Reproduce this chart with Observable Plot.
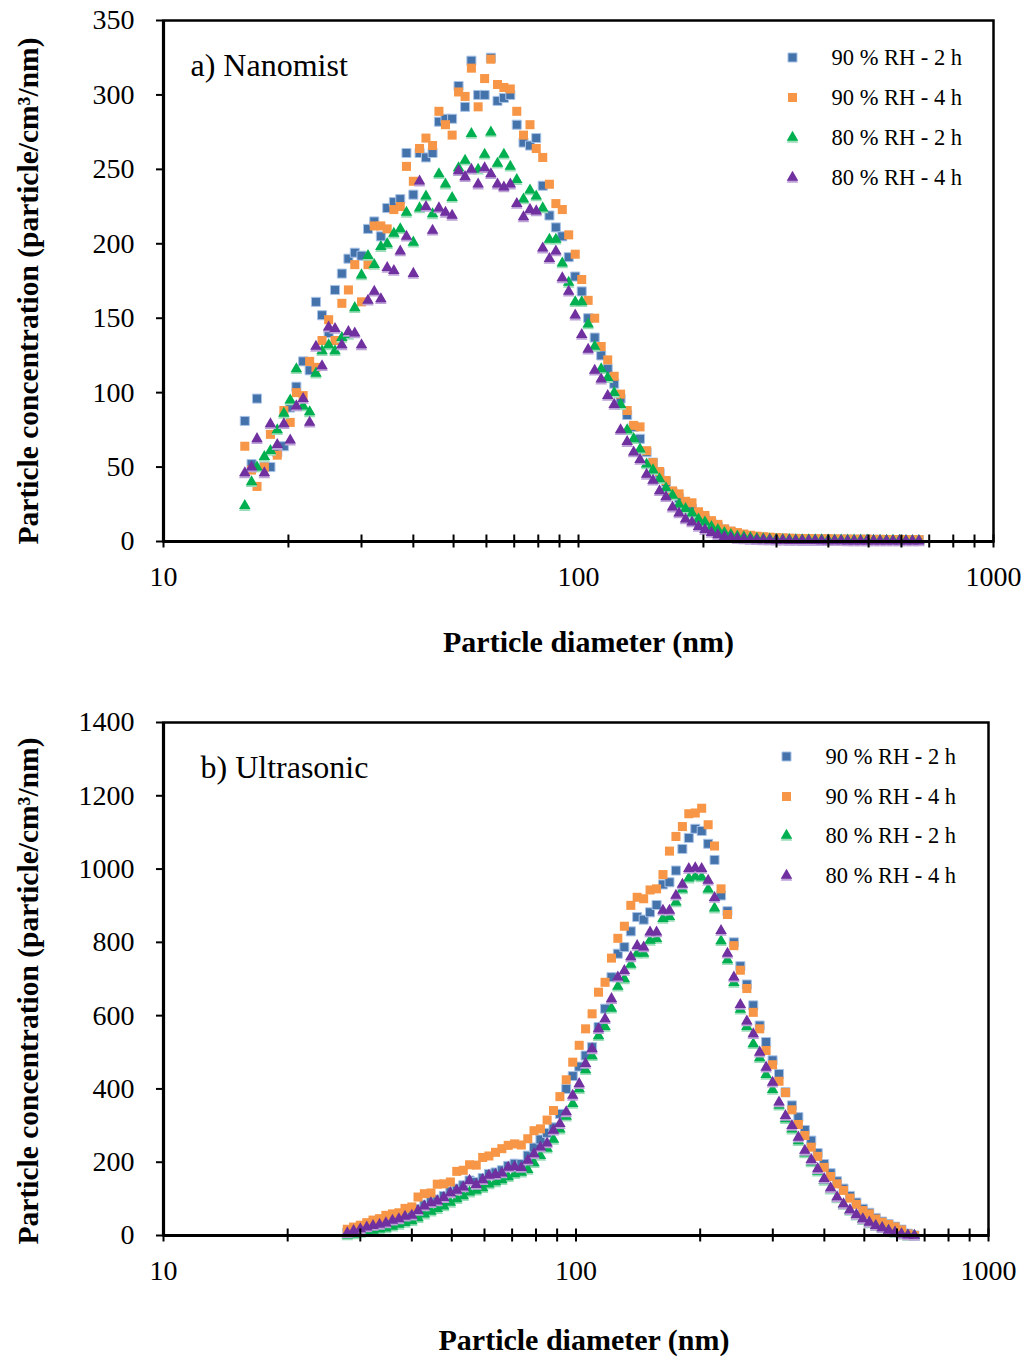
<!DOCTYPE html>
<html><head><meta charset="utf-8">
<script src="https://cdn.jsdelivr.net/npm/d3@7"></script>
<script src="https://cdn.jsdelivr.net/npm/@observablehq/plot@0.6"></script>
<style>
html,body{margin:0;padding:0;background:#fff;}
#wrap{position:relative;width:1034px;height:1360px;background:#fff;}
#wrap svg{position:absolute;left:0;}
</style></head><body><div id="wrap"></div>
<script>
// ---- data ----
const seriesNames = ["90 % RH - 2 h", "90 % RH - 4 h", "80 % RH - 2 h", "80 % RH - 4 h"];
const panelTitles = ["a) Nanomist", "b) Ultrasonic"];
const xLabel = "Particle diameter (nm)";
const yLabel = "Particle concentration (particle/cm³/nm)";
const xTickLabels = [10, 100, 1000];
const xMinorTicks = [10,20,30,40,50,60,70,80,90,100,200,300,400,500,600,700,800,900,1000];
const yTicksA = [0,50,100,150,200,250,300,350];
const yTicksB = [0,200,400,600,800,1000,1200,1400];

const diameterA = [
15.7,16.3,16.8,17.5,18.1,18.8,19.5,20.2,20.9,21.7,
22.5,23.3,24.1,25.0,25.9,26.9,27.9,28.9,30.0,31.1,
32.2,33.4,34.6,35.9,37.2,38.5,40.0,41.4,42.9,44.5,
46.1,47.8,49.6,51.4,53.3,55.2,57.3,59.4,61.5,63.8,
66.1,68.5,71.0,73.7,76.4,79.1,82.0,85.1,88.2,91.4,
94.7,98.2,101.8,105.5,109.4,113.4,117.6,121.9,126.3,131.0,
135.8,140.7,145.9,151.2,156.8,162.5,168.5,174.7,181.1,187.7,
194.6,201.7,209.1,216.7,224.7,232.9,241.4,250.3,259.5,269.0,
278.8,289.0,299.6,310.6,322.0,333.8,346.0,358.7,371.8,385.4,
399.5,414.2,429.4,445.1,461.4,478.3,495.8,514.0,532.8,552.3,
572.5,593.5,615.3,637.8,661.2];

const diameterB = [
27.9,28.9,30.0,31.1,32.2,33.4,34.6,35.9,37.2,38.5,
40.0,41.4,42.9,44.5,46.1,47.8,49.6,51.4,53.3,55.2,
57.3,59.4,61.5,63.8,66.1,68.5,71.0,73.7,76.4,79.1,
82.0,85.1,88.2,91.4,94.7,98.2,101.8,105.5,109.4,113.4,
117.6,121.9,126.3,131.0,135.8,140.7,145.9,151.2,156.8,162.5,
168.5,174.7,181.1,187.7,194.6,201.7,209.1,216.7,224.7,232.9,
241.4,250.3,259.5,269.0,278.8,289.0,299.6,310.6,322.0,333.8,
346.0,358.7,371.8,385.4,399.5,414.2,429.4,445.1,461.4,478.3,
495.8,514.0,532.8,552.3,572.5,593.5,615.3,637.8,661.2];

// a) Nanomist
const nano90_2h = [
81,52,96,50,50,60,64,90,104,121,
115,161,152,140,169,180,190,194,192,210,
215,205,224,228,230,261,233,261,258,261,
282,284,284,306,292,323,300,300,325,296,
298,300,280,268,266,271,239,219,211,205,
191,178,168,150,137,125,116,106,96,85,
77,69,60,53,46,40,33,29,25,22,
18,15,12.5,10,8,6.5,5,4,3.5,3,
2.6,2.3,2.1,1.9,1.8,1.7,1.6,1.5,1.5,1.4,
1.4,1.3,1.3,1.2,1.2,1.2,1.1,1.1,1.1,1,
1,1,1,0.9,0.9];
const nano90_4h = [
64,48,37,50,72,58,88,80,100,98,
121,117,135,149,135,160,169,186,161,186,
212,212,210,223,225,252,242,264,271,266,
289,280,273,302,299,318,292,311,324,307,
305,304,289,273,280,264,258,240,227,223,
206,193,176,162,150,131,122,111,99,88,
78,77,61,53,47,41,34,32,27,26,
20,17.5,14,11.5,8.5,7,6,5,4.2,3.6,
3.2,2.9,2.6,2.4,2.2,2.1,2,1.9,1.8,1.8,
1.7,1.7,1.6,1.6,1.5,1.5,1.5,1.4,1.4,1.4,
1.3,1.3,1.3,1.2,1.2];
const nano80_2h = [
24,40,50,57,61,75,86,95,116,91,
87,113,128,132,128,137,139,157,179,192,
186,198,200,207,210,221,201,224,232,220,
247,240,231,251,256,274,250,260,275,254,
260,252,243,230,236,232,224,203,203,187,
174,161,161,146,131,116,110,100,92,75,
69,62,52,48,42,36,31,25,22,19,
15,13,10,8,6,4.6,3.5,3,2.5,2.1,
1.8,1.6,1.4,1.3,1.2,1.1,1.1,1,1,1,
0.9,0.9,0.9,0.8,0.8,0.8,0.8,0.7,0.7,0.7,
0.7,0.7,0.6,0.6,0.6];
const nano80_4h = [
46,50,69,46,79,65,79,68,91,96,
80,131,118,144,143,132,141,140,132,162,
168,163,184,182,195,205,180,242,225,209,
224,221,219,249,245,250,240,251,247,240,
238,240,227,218,223,222,197,190,195,177,
168,152,139,129,115,109,98,92,75,67,
60,55,45,41,34,30,23,19,15,13,
10,8,6,4.5,3.2,2.5,2,1.6,1.3,1.1,
1,0.9,0.8,0.7,0.6,0.6,0.5,0.5,0.5,0.4,
0.4,0.4,0.4,0.3,0.3,0.3,0.3,0.3,0.3,0.3,
0.3,0.3,0.3,0.3,0.3];

// b) Ultrasonic
const ultra90_2h = [
8,14,20,25,29,33,37,43,48,55,
60,72,84,93,98,108,120,128,137,150,
146,157,168,172,178,190,196,195,218,240,
262,280,295,332,400,435,461,491,514,569,
619,705,769,787,830,869,862,882,902,958,
964,996,1055,1085,1110,1104,1069,1025,928,885,
800,735,685,628,573,528,478,441,391,355,
323,288,259,225,195,170,148,128,108,90,
73,62,48,38,31,24,16,5,0];
const ultra90_4h = [
17,23,28,35,42,46,55,59,62,74,
78,105,114,116,140,141,146,175,178,193,
192,213,217,227,237,246,250,247,264,286,
291,315,341,379,425,473,519,564,605,664,
691,757,811,844,901,923,919,943,946,985,
1049,1089,1116,1151,1153,1166,1121,1063,946,876,
791,724,674,609,564,505,466,421,390,343,
303,273,241,216,186,161,141,123,102,85,
68,59,45,36,30,23,15,4,0];
const ultra80_2h = [
1,4,8,11,14,17,20,25,30,35,
40,48,58,66,73,80,90,100,108,118,
123,130,140,146,152,160,168,172,180,198,
218,238,262,290,325,360,400,452,490,545,
570,620,680,700,740,770,770,805,810,865,
870,910,945,975,980,978,945,893,804,752,
690,617,570,523,485,439,398,355,318,290,
258,225,200,175,150,126,102,84,68,55,
43,34,26,20,13,8,3,0,0];
const ultra80_4h = [
7,13,18,23,27,30,34,41,45,52,
55,68,80,89,94,103,116,123,132,150,
139,152,164,166,170,186,188,185,205,223,
241,252,287,305,337,382,414,469,509,564,
591,646,705,723,760,791,787,828,828,887,
887,928,958,1001,1003,1001,969,922,832,770,
705,630,585,550,500,459,418,364,327,300,
268,232,207,182,155,130,105,86,70,57,
45,36,27,21,14,9,4,1,0];

// ---- styles ----
const seriesStyle = [
  {fill: "#4472AB", symbol: "square", r: 5.1, stroke: "#A9C3E6", strokeWidth: 1, shadow: null},
  {fill: "#F79646", symbol: "square", r: 5.1, stroke: "none", strokeWidth: 0, shadow: null},
  {fill: "#00B050", symbol: "triangle", r: 4.3, stroke: "none", strokeWidth: 0, shadow: "#9BDDB9"},
  {fill: "#7030A0", symbol: "triangle", r: 4.3, stroke: "none", strokeWidth: 0, shadow: "#BDA2D8"}
];
const FONT = "'Liberation Serif','Times New Roman',serif";

function buildRows(diam, arrays) {
  const rows = [];
  arrays.forEach((arr, s) => {
    const n = Math.min(arr.length, diam.length);
    for (let i = 0; i < n; i++) rows.push({d: diam[i], v: arr[i], s});
  });
  return rows;
}

function panel(o) {
  const rows = buildRows(o.diam, o.values);
  const marks = [];
  seriesStyle.forEach((st, s) => {
    const sub = rows.filter(r => r.s === s);
    if (st.shadow) marks.push(Plot.dot(sub, {x: "d", y: "v", symbol: st.symbol, r: st.r, fill: st.shadow, dy: 1.8}));
    marks.push(Plot.dot(sub, {x: "d", y: "v", symbol: st.symbol, r: st.r, fill: st.fill,
      stroke: st.stroke, strokeWidth: st.strokeWidth}));
  });
  marks.push(Plot.frame({stroke: "black", strokeWidth: 2.5}));
  marks.push(Plot.ruleY([o.yTicks[0]], {stroke: "black", strokeWidth: 3.2}));
  marks.push(Plot.ruleX([xMinorTicks[0]], {stroke: "black", strokeWidth: 3.2}));
  marks.push(Plot.axisX(xMinorTicks, {anchor: "bottom", tickSize: 13, dy: -6.5, strokeWidth: 2, tickFormat: () => "", label: null}));
  marks.push(Plot.axisX(xTickLabels, {anchor: "bottom", tickSize: 0, tickPadding: 25, tickFormat: d => String(d), label: null, fontSize: 28}));
  marks.push(Plot.axisY(o.yTicks, {anchor: "left", tickSize: 7, tickPadding: 22, strokeWidth: 2, tickFormat: d => String(d), label: null, fontSize: 28}));
  marks.push(Plot.text([o.title], {frameAnchor: "top-left", dx: o.titleDx, dy: 45, textAnchor: "start", lineAnchor: "middle", fontSize: 32, fill: "black"}));
  seriesNames.forEach((name, s) => {
    const st = seriesStyle[s];
    const dy = o.legendDy[s];
    if (st.shadow) marks.push(Plot.dot([name], {frameAnchor: "top-right", dx: o.legendDx, dy: dy + 1.8, symbol: st.symbol, r: st.r, fill: st.shadow}));
    marks.push(Plot.dot([name], {frameAnchor: "top-right", dx: o.legendDx, dy, symbol: st.symbol, r: st.r, fill: st.fill, stroke: st.stroke, strokeWidth: st.strokeWidth}));
    marks.push(Plot.text([name], {frameAnchor: "top-right", dx: o.legendDx + 39, dy, textAnchor: "start", lineAnchor: "middle", fontSize: 22.5, fill: "black", text: d => d}));
  });
  marks.push(Plot.text([xLabel], {frameAnchor: "bottom", dx: o.xLabelDx, dy: o.xLabelDy, textAnchor: "middle", lineAnchor: "middle", fontSize: 30, fontWeight: "bold", fill: "black", text: d => d}));
  marks.push(Plot.text([yLabel], {frameAnchor: "left", dx: -135, dy: o.yLabelDy, rotate: -90, textAnchor: "middle", lineAnchor: "middle", fontSize: 29.5, fontWeight: "bold", fill: "black", text: d => d}));

  return Plot.plot({
    width: 1034,
    height: o.height,
    marginTop: o.marginTop,
    marginBottom: o.marginBottom,
    marginLeft: 163,
    marginRight: o.marginRight,
    x: {type: "log", domain: [xMinorTicks[0], xMinorTicks[xMinorTicks.length - 1]], label: null},
    y: {domain: [o.yTicks[0], o.yTicks[o.yTicks.length - 1]], label: null},
    style: {fontFamily: FONT, fontSize: "28px", color: "black", background: "white", overflow: "visible"},
    marks
  });
}

const wrap = document.getElementById("wrap");
const svgA = panel({
  diam: diameterA, values: [nano90_2h, nano90_4h, nano80_2h, nano80_4h],
  yTicks: yTicksA, title: panelTitles[0], titleDx: 27,
  height: 680, marginTop: 20, marginBottom: 139, marginRight: 41,
  legendDx: -201, legendDy: [37, 77, 117, 157],
  xLabelDx: 10, xLabelDy: 101, yLabelDy: 10
});
svgA.style.top = "0px";
wrap.appendChild(svgA);

const svgB = panel({
  diam: diameterB, values: [ultra90_2h, ultra90_4h, ultra80_2h, ultra80_4h],
  yTicks: yTicksB, title: panelTitles[1], titleDx: 37,
  height: 680, marginTop: 42, marginBottom: 125, marginRight: 46,
  legendDx: -202, legendDy: [34, 74, 113, 153],
  xLabelDx: 8, xLabelDy: 105, yLabelDy: 12
});
svgB.style.top = "680px";
wrap.appendChild(svgB);
</script>
</body></html>
